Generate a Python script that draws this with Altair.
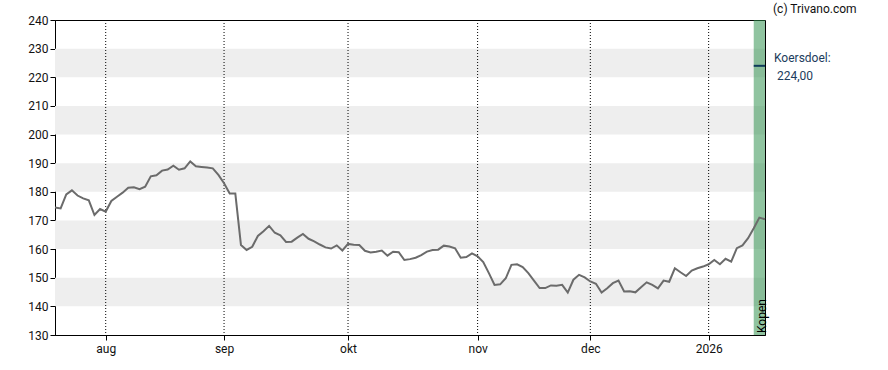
import altair as alt
import pandas as pd

# Trading-session index (0 = first session shown) and closing prices
session = list(range(127))
price = [
    174.5, 174.2, 179.1, 180.5, 178.7, 177.7, 177.0, 171.9, 174.0, 173.1,
    176.8, 178.3, 179.7, 181.4, 181.6, 180.9, 181.8, 185.4, 185.8, 187.4,
    187.8, 189.1, 187.7, 188.2, 190.6, 188.9, 188.7, 188.5, 188.2, 185.9,
    183.0, 179.4, 179.4, 161.4, 159.7, 160.8, 164.6, 166.2, 168.1, 165.7,
    164.8, 162.5, 162.6, 164.0, 165.3, 163.6, 162.7, 161.6, 160.6, 160.2,
    161.3, 159.5, 161.8, 161.5, 161.4, 159.4, 158.8, 159.1, 159.5, 157.7,
    159.1, 158.9, 156.2, 156.5, 157.0, 157.9, 159.1, 159.7, 159.8, 161.2,
    160.9, 160.3, 157.0, 157.2, 158.5, 157.5, 155.5, 151.6, 147.5, 147.7,
    149.8, 154.5, 154.7, 153.7, 151.6, 149.0, 146.4, 146.4, 147.3, 147.2,
    147.5, 144.8, 149.3, 151.0, 150.1, 148.7, 147.9, 144.8, 146.3, 148.1,
    149.0, 145.2, 145.3, 144.9, 146.7, 148.4, 147.5, 146.3, 149.0, 148.6,
    153.3, 151.9, 150.6, 152.5, 153.3, 153.9, 154.7, 156.2, 154.7, 156.6,
    155.6, 160.3, 161.3, 163.8, 167.3, 171.0, 170.4,
]

# Month ticks (session index of first trading day) and labels
tick_pos = [9, 30, 52, 75, 95, 116]
tick_lab = ["aug", "sep", "okt", "nov", "dec", "2026"]
y_ticks = [130, 140, 150, 160, 170, 180, 190, 200, 210, 220, 230, 240]

# Alternating grey bands
band_lo = [140, 160, 180, 200, 220]
band_hi = [150, 170, 190, 210, 230]

# Advice zone ("Kopen") and target price
advice_start, advice_end = 124, 126
target = 224.0

W, H = 710, 315
FONT = "Roboto"

xscale = alt.Scale(domain=[0, 126], nice=False, zero=False)
yscale = alt.Scale(domain=[130, 240], nice=False, zero=False)

label_expr = " : ".join(
    f"datum.value == {p} ? '{l}'" for p, l in zip(tick_pos, tick_lab)
) + " : ''"

xaxis = alt.Axis(
    values=tick_pos,
    labelExpr=label_expr,
    title="",
    grid=False,
    tickSize=5,
    labelPadding=3,
    labelFlush=False,
    labelOverlap=False,
)
yaxis = alt.Axis(
    values=y_ticks,
    title="",
    grid=False,
    tickSize=5,
    labelPadding=2,
    labelFlush=False,
    labelOverlap=False,
)

df_line = pd.DataFrame({"i": session, "v": price})
df_bands = pd.DataFrame({"lo": band_lo, "hi": band_hi})
df_ticks = pd.DataFrame({"pos": tick_pos})
df_adv = pd.DataFrame({"a": [advice_start], "b": [advice_end], "t": [target]})

bands = alt.Chart(df_bands).mark_rect(color="#eeeeee").encode(
    y=alt.Y("lo:Q", scale=yscale, axis=yaxis),
    y2="hi:Q",
    x=alt.value(0),
    x2=alt.value(W),
)

green = alt.Chart(df_adv).mark_rect(color="#2e904c", opacity=0.53).encode(
    x=alt.X("a:Q", scale=xscale, axis=xaxis),
    x2="b:Q",
    y=alt.value(0),
    y2=alt.value(H),
)

vrules = alt.Chart(df_ticks).mark_rule(
    color="black", strokeDash=[1, 2], strokeWidth=1
).encode(x=alt.X("pos:Q", scale=xscale, axis=xaxis))

line = alt.Chart(df_line).mark_line(color="#6b6b6b", strokeWidth=2).encode(
    x=alt.X("i:Q", scale=xscale, axis=xaxis),
    y=alt.Y("v:Q", scale=yscale, axis=yaxis),
)

target_rule = alt.Chart(df_adv).mark_rule(color="#0e3a5a", strokeWidth=2).encode(
    x=alt.X("a:Q", scale=xscale, axis=xaxis),
    x2="b:Q",
    y=alt.Y("t:Q", scale=yscale, axis=yaxis),
)

kopen = alt.Chart(df_adv).mark_text(
    text="Kopen", angle=270, align="left", baseline="middle",
    font=FONT, fontSize=12, color="black",
).encode(x=alt.value(707), y=alt.value(H - 2))

credit = alt.Chart(df_adv).mark_text(
    text="(c) Trivano.com", align="left", baseline="middle",
    font=FONT, fontSize=12, color="#111111",
).encode(x=alt.value(718), y=alt.value(-11))

koers1 = alt.Chart(df_adv).mark_text(
    text="Koersdoel:", align="left", baseline="middle",
    font=FONT, fontSize=12, color="#1c3c5c",
).encode(x=alt.value(719), y=alt.value(38))

koers2 = alt.Chart(df_adv).mark_text(
    text="224,00", align="left", baseline="middle",
    font=FONT, fontSize=12, color="#1c3c5c",
).encode(x=alt.value(722), y=alt.value(56))

chart = alt.layer(
    bands, green, vrules, line, target_rule, kopen, credit, koers1, koers2
).properties(
    width=W,
    height=H,
    autosize=alt.AutoSizeParams(type="none"),
    padding={"left": 55, "top": 20, "right": 123, "bottom": 35},
    background="white",
).configure_view(
    stroke="black", strokeWidth=1
).configure_axis(
    domainColor="black",
    tickColor="black",
    labelColor="#111111",
    labelFont=FONT,
    labelFontSize=12,
)

chart.save("out.html", embed_options={"renderer": "svg", "actions": False})
